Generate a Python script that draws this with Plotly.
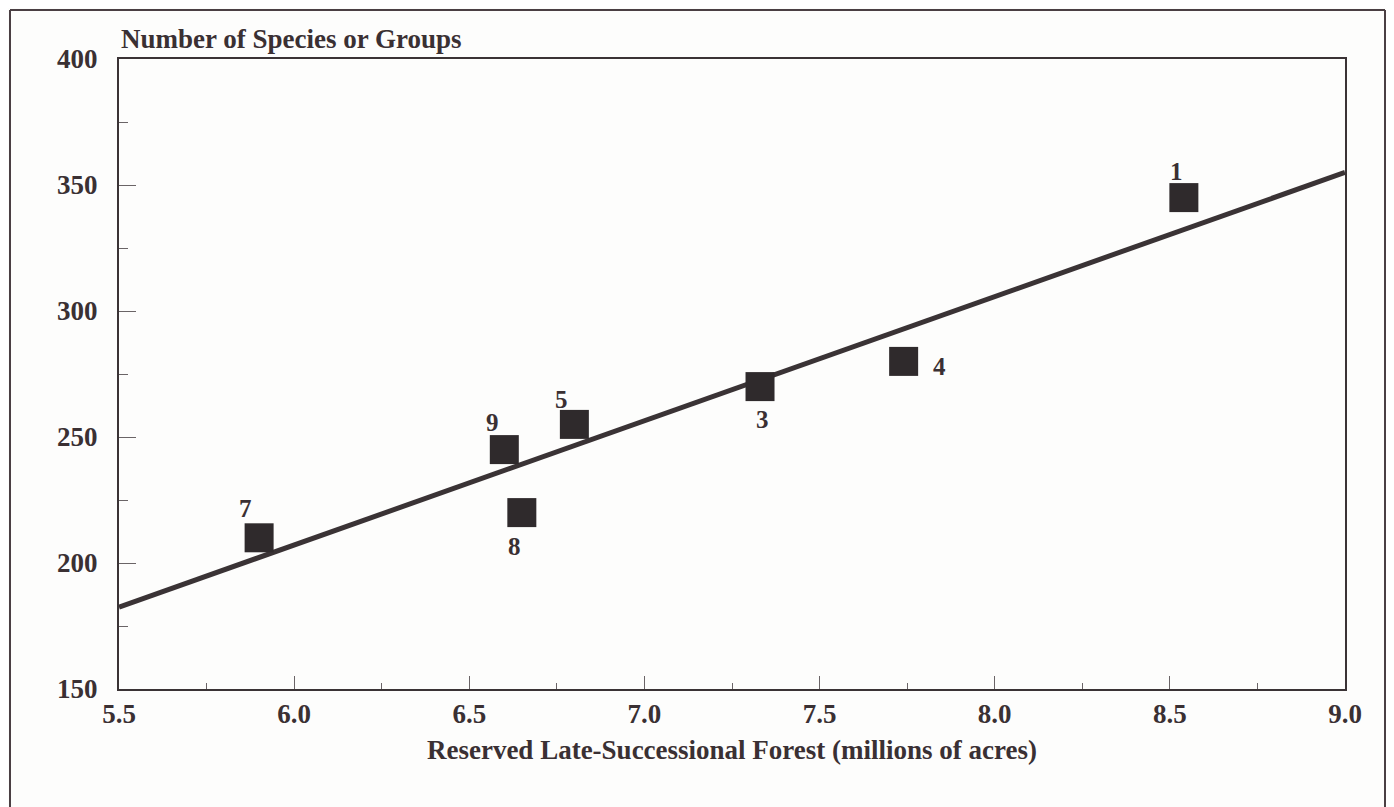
import plotly.graph_objects as go

# ---- data ----
forest_acres = [8.54, 7.74, 7.33, 6.80, 6.60, 6.65, 5.90]
species_count = [345, 280, 270, 255, 245, 220, 210]
point_labels = ["1", "4", "3", "5", "9", "8", "7"]

fit_x = [5.5, 9.0]
fit_y = [182.5, 355.0]

x_ticks = [5.5, 6.0, 6.5, 7.0, 7.5, 8.0, 8.5, 9.0]
x_tick_text = ["5.5", "6.0", "6.5", "7.0", "7.5", "8.0", "8.5", "9.0"]
y_ticks = [150, 200, 250, 300, 350, 400]
y_tick_text = ["150", "200", "250", "300", "350", "400"]

# label offsets (pixels) relative to each point
label_shift = [(-7, 26), (36, -5), (2, -33), (-13, 25), (-12, 27), (-7, -34), (-14, 29)]

ink = "#2f2a2c"
text_col = "#3a3033"
font_family = "Liberation Serif, Times New Roman, serif"

fig = go.Figure()

fig.add_trace(go.Scatter(
    x=fit_x, y=fit_y, mode="lines",
    line=dict(color="#3a3335", width=5),
    hoverinfo="skip", showlegend=False, cliponaxis=False,
))

fig.add_trace(go.Scatter(
    x=forest_acres, y=species_count, mode="markers",
    marker=dict(symbol="square", size=29, color=ink, line=dict(width=0)),
    showlegend=False,
))

for xv, yv, lab, (dx, dy) in zip(forest_acres, species_count, point_labels, label_shift):
    fig.add_annotation(
        x=xv, y=yv, xref="x", yref="y", text=lab, showarrow=False,
        xshift=dx, yshift=dy,
        font=dict(family=font_family, size=25, color=text_col, weight="bold"),
    )

fig.add_annotation(
    x=0, y=1, xref="paper", yref="paper", xanchor="left", yanchor="bottom",
    yshift=3, text="Number of Species or Groups", showarrow=False,
    font=dict(family=font_family, size=27, color=text_col, weight="bold"),
)

# outer frame (left, top, right) in figure pixels -> paper coords
# plot area spans figure x 111..1337, y 51..681
PX0, PW, PY1, PH = 111, 1226, 681, 630
for x0, y0, x1, y1 in [(2, 2, 2, 799), (2, 2, 1377, 2), (1377, 2, 1377, 799)]:
    fig.add_shape(type="line", xref="paper", yref="paper",
                  x0=(x0 - PX0) / PW, x1=(x1 - PX0) / PW,
                  y0=(PY1 - y0) / PH, y1=(PY1 - y1) / PH,
                  line=dict(color="#4a3f43", width=2))

fig.update_xaxes(
    range=[5.5, 9.0], tickvals=x_ticks, ticktext=x_tick_text,
    ticks="inside", ticklen=13, tickwidth=1, tickcolor="#6a6466",
    minor=dict(ticks="inside", ticklen=6, dtick=0.25, tick0=5.5, tickcolor="#6a6466", tickwidth=1),
    showline=True, linecolor="#3a3335", linewidth=2, mirror=True,
    showgrid=False, zeroline=False,
    ticklabelstandoff=0,
    tickfont=dict(family=font_family, size=27, color=text_col, weight="bold"),
    title=dict(text="Reserved Late-Successional Forest (millions of acres)",
               font=dict(family=font_family, size=27, color=text_col, weight="bold"),
               standoff=12),
)
fig.update_yaxes(
    range=[150, 400], tickvals=y_ticks, ticktext=y_tick_text,
    ticks="inside", ticklen=17, tickwidth=1, tickcolor="#6a6466",
    minor=dict(ticks="inside", ticklen=9, dtick=25, tick0=150, tickcolor="#6a6466", tickwidth=1),
    showline=True, linecolor="#3a3335", linewidth=2, mirror=True,
    showgrid=False, zeroline=False,
    ticklabelstandoff=14,
    tickfont=dict(family=font_family, size=27, color=text_col, weight="bold"),
)

fig.update_layout(
    width=1386, height=799,
    margin=dict(l=111, r=49, t=51, b=118),
    paper_bgcolor="#fdfdfc", plot_bgcolor="#fdfdfc",
    showlegend=False,
)

fig.write_html("out.html")
